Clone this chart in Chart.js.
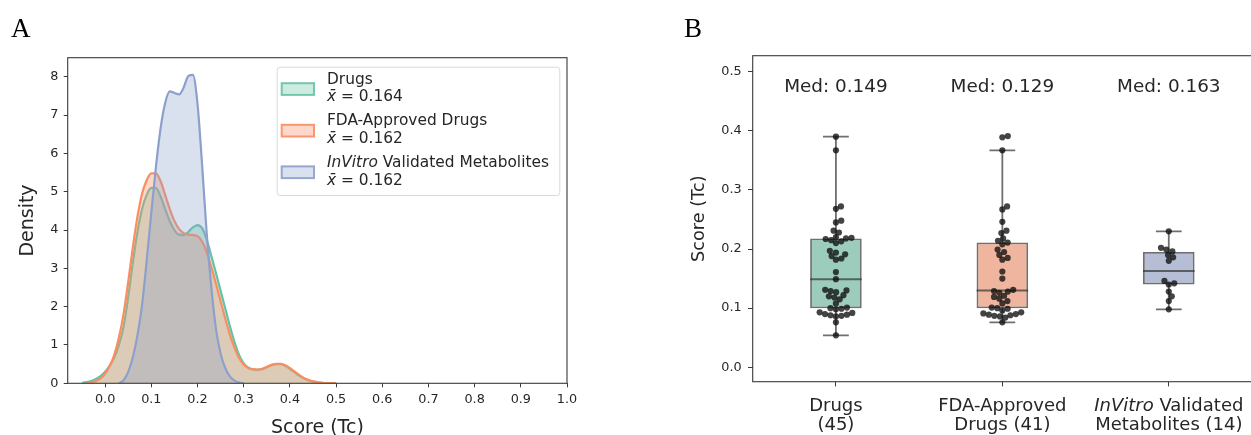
<!DOCTYPE html>
<html>
<head>
<meta charset="utf-8">
<script src="https://cdn.jsdelivr.net/npm/chart.js@4.4.0/dist/chart.umd.min.js"></script>
<style>
  html, body { margin: 0; padding: 0; background: #fff; width: 1251px; height: 435px; overflow: hidden; }
  #wrap { position: relative; width: 1251px; height: 435px; overflow: hidden; }
  canvas { position: absolute; top: 0; }
  #ca { left: 0; }
  #cb { left: 640px; }
  .panel { position: absolute; font-family: "Liberation Serif", serif; font-size: 27px; line-height: 27px; color: #000; }
</style>
</head>
<body>
<div id="wrap">
  <canvas id="ca" width="640" height="435"></canvas>
  <canvas id="cb" width="620" height="435"></canvas>
  <div class="panel" style="left:11px; top:15px">A</div>
  <div class="panel" style="left:684px; top:15px">B</div>
</div>
<script>
// ---- panel A: KDE of scores ----
const scoreGrid = [
  -0.06, -0.05, -0.04, -0.03, -0.02, -0.01, 0.00, 0.01, 0.02, 0.03,
  0.04, 0.05, 0.06, 0.07, 0.08, 0.09, 0.10, 0.11, 0.12, 0.13,
  0.14, 0.15, 0.16, 0.17, 0.18, 0.19, 0.20, 0.21, 0.22, 0.23,
  0.24, 0.25, 0.26, 0.27, 0.28, 0.29, 0.30, 0.31, 0.32, 0.33,
  0.34, 0.35, 0.36, 0.37, 0.38, 0.39, 0.40, 0.41, 0.42, 0.43,
  0.44, 0.45, 0.46, 0.47, 0.48, 0.49, 0.50
];
const drugsDensity = [
  null, 0.01, 0.03, 0.06, 0.11, 0.19, 0.30, 0.46, 0.68, 1.00,
  1.48, 2.25, 3.15, 3.95, 4.55, 4.92, 5.10, 5.10, 4.88, 4.55,
  4.23, 4.00, 3.88, 3.87, 3.95, 4.07, 4.13, 4.05, 3.75, 3.32,
  2.88, 2.42, 1.96, 1.50, 1.08, 0.74, 0.52, 0.41, 0.36, 0.35,
  0.37, 0.42, 0.47, 0.50, 0.50, 0.46, 0.38, 0.29, 0.20, 0.13,
  0.08, 0.045, 0.025, 0.012, 0.005, 0.002, 0.0
];
const fdaDensity = [
  null, null, 0.0, 0.02, 0.06, 0.13, 0.25, 0.45, 0.75, 1.20,
  1.82, 2.65, 3.55, 4.35, 4.95, 5.30, 5.48, 5.48, 5.28, 4.92,
  4.55, 4.24, 4.03, 3.92, 3.88, 3.87, 3.84, 3.70, 3.42, 3.03,
  2.60, 2.14, 1.69, 1.27, 0.93, 0.66, 0.49, 0.40, 0.37, 0.36,
  0.38, 0.43, 0.48, 0.51, 0.51, 0.47, 0.40, 0.31, 0.22, 0.14,
  0.09, 0.05, 0.028, 0.014, 0.006, 0.002, 0.0
];
const invitroDensity = [
  null, null, null, null, null, null, null, null, null, 0.0,
  0.08, 0.30, 0.68, 1.25, 2.05, 3.20, 4.45, 5.65, 6.65, 7.32,
  7.62, 7.58, 7.54, 7.72, 8.02, 8.05, 7.30, 5.70, 3.90, 2.50,
  1.42, 0.78, 0.40, 0.18, 0.07, 0.02, 0.0, null, null, null,
  null, null, null, null, null, null, null, null, null, null,
  null, null, null, null, null, null, null
];
const seriesNames = ['Drugs', 'FDA-Approved Drugs', '*InVitro* Validated Metabolites'];
const seriesMeans = ['0.164', '0.162', '0.162'];
const scoreTicks = [0.0, 0.1, 0.2, 0.3, 0.4, 0.5, 0.6, 0.7, 0.8, 0.9, 1.0];
const densityTicks = [0, 1, 2, 3, 4, 5, 6, 7, 8];

// ---- panel B: box + swarm ----
const groupLabels = ['Drugs\n(45)', 'FDA-Approved\nDrugs (41)', '*InVitro* Validated\nMetabolites (14)'];
const medianLabels = ['Med: 0.149', 'Med: 0.129', 'Med: 0.163'];
const boxQ1 = [0.0998, 0.0998, 0.140];
const boxMedian = [0.149, 0.130, 0.163];
const boxQ3 = [0.218, 0.211, 0.195];
const whiskerLo = [0.054, 0.076, 0.098];
const whiskerHi = [0.390, 0.367, 0.230];
const drugsScores = [
  0.054, 0.076, 0.086, 0.087, 0.088, 0.089, 0.090, 0.092, 0.093, 0.098,
  0.099, 0.100, 0.101, 0.108, 0.115, 0.118, 0.120, 0.122, 0.127, 0.129,
  0.130, 0.131, 0.149, 0.161, 0.182, 0.184, 0.188, 0.191, 0.194, 0.197,
  0.210, 0.213, 0.215, 0.217, 0.218, 0.219, 0.220, 0.228, 0.231, 0.245,
  0.248, 0.268, 0.272, 0.367, 0.390
];
const fdaScores = [
  0.076, 0.084, 0.086, 0.087, 0.088, 0.089, 0.090, 0.091, 0.093, 0.096,
  0.099, 0.100, 0.101, 0.108, 0.112, 0.116, 0.119, 0.121, 0.126, 0.128,
  0.129, 0.131, 0.150, 0.162, 0.182, 0.185, 0.190, 0.195, 0.199, 0.208,
  0.211, 0.214, 0.218, 0.227, 0.231, 0.246, 0.267, 0.272, 0.367, 0.389,
  0.391
];
const invitroScores = [
  0.098, 0.112, 0.120, 0.128, 0.140, 0.142, 0.146, 0.180, 0.186, 0.190,
  0.196, 0.199, 0.202, 0.230
];
const boxTicks = [0.0, 0.1, 0.2, 0.3, 0.4, 0.5];

// Set2 colours
const palette = [[102, 194, 165], [252, 141, 98], [141, 160, 203]];
const boxPalette = [[114, 182, 159], [233, 150, 117], [149, 163, 195]]; // desaturated
const rgba = (c, a) => `rgba(${c[0]},${c[1]},${c[2]},${a})`;
const FONT = '"DejaVu Sans", sans-serif';
const TXT = '#262626';
const FILL_ALPHA = 0.33;

// text with *italic* runs
function drawRich(ctx, str, x, y, size, align) {
  const parts = str.split('*').map((t, i) => ({ t, it: i % 2 === 1 })).filter(p => p.t);
  const font = it => `${it ? 'italic ' : ''}${size}px ${FONT}`;
  let w = 0;
  parts.forEach(p => { ctx.font = font(p.it); w += ctx.measureText(p.t).width; });
  let cx = align === 'center' ? x - w / 2 : x;
  ctx.textAlign = 'left';
  ctx.textBaseline = 'middle';
  parts.forEach(p => {
    ctx.font = font(p.it);
    ctx.fillText(p.t, cx, y);
    cx += ctx.measureText(p.t).width;
  });
}

const framePlugin = {
  id: 'frame',
  afterDraw(chart) {
    const { ctx, chartArea: a } = chart;
    ctx.save();
    ctx.strokeStyle = '#3a3a3a';
    ctx.lineWidth = 1.1;
    ctx.strokeRect(a.left, a.top, a.right - a.left, a.bottom - a.top);
    ctx.restore();
  },
};

const kdeLegend = {
  id: 'kdeLegend',
  afterDraw(chart) {
    const { ctx, chartArea: a } = chart;
    const bx = a.right - 290.3, by = a.top + 9, bw = 282.6, bh = 128.3;
    ctx.save();
    ctx.beginPath();
    ctx.roundRect(bx + 0.5, by + 0.5, bw, bh, 3);
    ctx.fillStyle = 'rgba(255,255,255,0.85)';
    ctx.fill();
    ctx.strokeStyle = '#d9d9d9';
    ctx.lineWidth = 1;
    ctx.stroke();
    seriesNames.forEach((name, i) => {
      const cy = by + 22.3 + i * 41.6;
      ctx.fillStyle = rgba(palette[i], FILL_ALPHA);
      ctx.fillRect(bx + 5, cy - 5.8, 32.3, 11.7);
      ctx.strokeStyle = rgba(palette[i], 0.9);
      ctx.lineWidth = 2;
      ctx.strokeRect(bx + 5, cy - 5.8, 32.3, 11.7);
      ctx.fillStyle = TXT;
      drawRich(ctx, name, bx + 50.3, cy - 9.5, 15.4, 'left');
      drawRich(ctx, '*x\u0304* = ' + seriesMeans[i], bx + 50.3, cy + 8.3, 15.4, 'left');
    });
    ctx.restore();
  },
};

function kdeSet(values, i) {
  return {
    data: scoreGrid.map((x, k) => ({ x, y: values[k] })).filter(p => p.y !== null),
    borderColor: rgba(palette[i], 1),
    backgroundColor: rgba(palette[i], FILL_ALPHA),
    borderWidth: 2.2,
    fill: 'origin',
    pointRadius: 0,
    cubicInterpolationMode: 'monotone',
    order: 3 - i,
  };
}

new Chart(document.getElementById('ca'), {
  type: 'line',
  data: { datasets: [kdeSet(drugsDensity, 0), kdeSet(fdaDensity, 1), kdeSet(invitroDensity, 2)] },
  options: {
    responsive: false,
    animation: false,
    events: [],
    layout: { padding: { left: 0, top: 57.7, right: 73, bottom: 0 } },
    plugins: { legend: { display: false }, tooltip: { enabled: false } },
    scales: {
      x: {
        type: 'linear', min: -0.081, max: 1.0,
        afterBuildTicks: s => { s.ticks = scoreTicks.map(v => ({ value: v })); },
        afterFit: s => { s.height = 51.7; },
        ticks: { callback: v => v.toFixed(1), font: { size: 12.8, family: FONT }, color: TXT, padding: 5, maxRotation: 0, autoSkip: false },
        grid: { drawOnChartArea: false, tickLength: 4, color: '#3a3a3a' },
        border: { display: false },
        title: { display: true, text: 'Score (Tc)', color: TXT, font: { size: 19, family: FONT, lineHeight: 1 }, padding: { top: 0, bottom: -3 } },
      },
      y: {
        min: 0, max: 8.5,
        afterBuildTicks: s => { s.ticks = densityTicks.map(v => ({ value: v })); },
        afterFit: s => { s.width = 67.7; },
        ticks: { font: { size: 12.8, family: FONT }, color: TXT, padding: 5.4 },
        grid: { drawOnChartArea: false, tickLength: 4, color: '#3a3a3a' },
        border: { display: false },
        title: { display: true, text: 'Density', color: TXT, font: { size: 19, family: FONT, lineHeight: 1 }, padding: { top: 18.5, bottom: 0 } },
      },
    },
  },
  plugins: [framePlugin, kdeLegend],
});

// ---- panel B ----
const BOX_WIDTH = 0.31;
const lineGrey = 'rgba(55,55,55,0.72)';
const groups = [drugsScores, fdaScores, invitroScores];

const whiskerPts = [];
const medianPts = [];
groupLabels.forEach((_, i) => {
  const cap = BOX_WIDTH / 4;
  whiskerPts.push(
    { x: i, y: whiskerLo[i] }, { x: i, y: boxQ1[i] }, { x: i, y: null },
    { x: i, y: boxQ3[i] }, { x: i, y: whiskerHi[i] }, { x: i, y: null },
    { x: i - cap, y: whiskerLo[i] }, { x: i + cap, y: whiskerLo[i] }, { x: i, y: null },
    { x: i - cap, y: whiskerHi[i] }, { x: i + cap, y: whiskerHi[i] }, { x: i, y: null }
  );
  medianPts.push({ x: i - BOX_WIDTH / 2, y: boxMedian[i] }, { x: i + BOX_WIDTH / 2, y: boxMedian[i] }, { x: i, y: null });
});

const boxLabels = {
  id: 'boxLabels',
  afterDraw(chart) {
    const { ctx, chartArea: a, scales: { x, y } } = chart;
    ctx.save();
    ctx.fillStyle = TXT;
    groupLabels.forEach((lab, i) => {
      const px = x.getPixelForValue(i);
      lab.split('\n').forEach((line, k) => drawRich(ctx, line, px, a.bottom + 24.5 + k * 19.3, 18, 'center'));
      drawRich(ctx, medianLabels[i], px, y.getPixelForValue(0.473), 18.4, 'center');
    });
    ctx.restore();
  },
};

const chartB = new Chart(document.getElementById('cb'), {
  type: 'scatter',
  data: {
    datasets: [
      {
        type: 'bar',
        data: groups.map((_, i) => ({ x: i, y: [boxQ1[i], boxQ3[i]] })),
        backgroundColor: boxPalette.map(c => rgba(c, 0.7)),
        borderColor: lineGrey,
        borderWidth: 1.8,
        borderSkipped: false,
        barPercentage: BOX_WIDTH,
        categoryPercentage: 1,
        order: 4,
      },
      { type: 'scatter', showLine: true, spanGaps: false, data: whiskerPts, borderColor: lineGrey, borderWidth: 1.8, pointRadius: 0, order: 3 },
      { type: 'scatter', showLine: true, spanGaps: false, data: medianPts, borderColor: lineGrey, borderWidth: 2, pointRadius: 0, order: 2 },
      {
        type: 'scatter',
        data: groups.flatMap((vals, i) => vals.map(v => ({ x: i, y: v }))),
        backgroundColor: 'rgba(15,15,15,0.78)',
        borderWidth: 0,
        pointRadius: 3.1,
        order: 1,
      },
    ],
  },
  options: {
    responsive: false,
    animation: false,
    events: [],
    layout: { padding: { left: 0, top: 55.7, right: 8, bottom: 0 } },
    plugins: { legend: { display: false }, tooltip: { enabled: false } },
    scales: {
      x: {
        type: 'linear', min: -0.5, max: 2.5, offset: false,
        afterBuildTicks: s => { s.ticks = groups.map((_, i) => ({ value: i })); },
        afterFit: s => { s.height = 53.3; },
        ticks: { callback: () => '', autoSkip: false },
        grid: { drawOnChartArea: false, offset: false, tickLength: 4.7, color: '#3a3a3a' },
        border: { display: false },
      },
      y: {
        min: -0.0244, max: 0.527,
        afterBuildTicks: s => { s.ticks = boxTicks.map(v => ({ value: v })); },
        afterFit: s => { s.width = 112.7; },
        ticks: { callback: v => v.toFixed(1), font: { size: 12.8, family: FONT }, color: TXT, padding: 6.3 },
        grid: { drawOnChartArea: false, tickLength: 4.7, color: '#3a3a3a' },
        border: { display: false },
        title: { display: true, text: 'Score (Tc)', color: TXT, font: { size: 17.7, family: FONT, lineHeight: 1 }, padding: { top: 50.3, bottom: 0 } },
      },
    },
  },
  plugins: [framePlugin, boxLabels],
});

// beeswarm offsets, laid out in pixel space with the chart's own scales
function layoutSwarm(chart) {
  const xs = chart.scales.x, ys = chart.scales.y;
  const D = 5.6;
  const pts = [];
  groups.forEach((vals, gi) => {
    const cx = xs.getPixelForValue(gi);
    const placed = [];
    vals.slice().sort((a, b) => a - b).forEach(v => {
      const py = ys.getPixelForValue(v);
      const cands = [0];
      placed.forEach(q => {
        const dy = py - q.py;
        if (Math.abs(dy) < D) {
          const dx = Math.sqrt(D * D - dy * dy);
          cands.push(q.dx + dx, q.dx - dx);
        }
      });
      cands.sort((a, b) => Math.abs(a) - Math.abs(b));
      const dx = cands.find(c => placed.every(q => (c - q.dx) ** 2 + (py - q.py) ** 2 >= D * D - 0.01));
      placed.push({ dx, py });
      pts.push({ x: xs.getValueForPixel(cx + dx), y: v });
    });
  });
  chart.data.datasets[3].data = pts;
  chart.update('none');
}
layoutSwarm(chartB);
</script>
</body>
</html>
